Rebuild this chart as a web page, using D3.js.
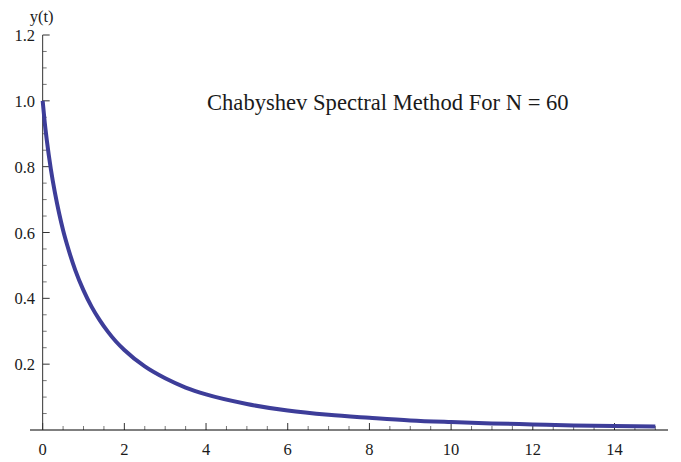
<!DOCTYPE html>
<html>
<head>
<meta charset="utf-8">
<script src="https://d3js.org/d3.v7.min.js"></script>
<style>
body { margin: 0; background: white; }
text { font-family: "Liberation Serif", "Times New Roman", serif; fill: #1a1a1a; }
</style>
</head>
<body>
<script>
var width = 681;
var height = 462;

// values
var tValues = [0, 0.05, 0.1, 0.2, 0.3, 0.4, 0.5, 0.6, 0.8, 1.0, 1.2, 1.4, 1.6, 1.8, 2.0, 2.5, 3.0, 3.5, 4.0, 5.0, 6.0, 7.0, 8.0, 9.0, 10.0, 11.0, 12.0, 13.0, 14.0, 15.0];
var yValues = [1.0, 0.935, 0.882, 0.793, 0.721, 0.660, 0.607, 0.562, 0.485, 0.424, 0.374, 0.333, 0.298, 0.268, 0.243, 0.193, 0.157, 0.129, 0.108, 0.079, 0.059, 0.046, 0.037, 0.029, 0.024, 0.020, 0.017, 0.014, 0.012, 0.011];

var xMajor = [0, 2, 4, 6, 8, 10, 12, 14];
var yMajor = [0.2, 0.4, 0.6, 0.8, 1.0, 1.2];
var yLabels = ["0.2", "0.4", "0.6", "0.8", "1.0", "1.2"];
var title = "Chabyshev Spectral Method For N = 60";

var data = tValues.map((t, i) => ({t: t, y: yValues[i]}));

var x = d3.scaleLinear().domain([-0.31, 15.31]).range([30, 668]);
var y = d3.scaleLinear().domain([0, 1.2]).range([430, 35]);

var svg = d3.select("body")
	.append("svg")
	.attr("width", width)
	.attr("height", height)

// minor ticks every 0.5 / 0.05
var xMinor = d3.range(0, 15.01, 0.5).filter(v => xMajor.indexOf(v) < 0);
var yMinor = d3.range(1, 24).map(v => v * 0.05).filter(v => Math.abs(v * 5 - Math.round(v * 5)) > 1e-6);

svg.selectAll("xminor").data(xMinor).enter()
	.append("line")
	.attr("x1", d => x(d)).attr("x2", d => x(d))
	.attr("y1", y(0)).attr("y2", y(0) - 4)
	.attr("stroke", "#777")

svg.selectAll("xmajor").data(xMajor).enter()
	.append("line")
	.attr("x1", d => x(d)).attr("x2", d => x(d))
	.attr("y1", y(0)).attr("y2", y(0) - 7)
	.attr("stroke", "#333")

svg.selectAll("yminor").data(yMinor).enter()
	.append("line")
	.attr("x1", x(0)).attr("x2", x(0) + 4)
	.attr("y1", d => y(d)).attr("y2", d => y(d))
	.attr("stroke", "#777")

svg.selectAll("ymajor").data(yMajor).enter()
	.append("line")
	.attr("x1", x(0)).attr("x2", x(0) + 7)
	.attr("y1", d => y(d)).attr("y2", d => y(d))
	.attr("stroke", "#333")

// axes lines
svg.append("line")
	.attr("x1", 30).attr("x2", 668)
	.attr("y1", y(0)).attr("y2", y(0))
	.attr("stroke", "black")

svg.append("line")
	.attr("x1", x(0)).attr("x2", x(0))
	.attr("y1", y(0)).attr("y2", y(1.2))
	.attr("stroke", "#333")

svg.selectAll("xlabels").data(xMajor).enter()
	.append("text")
	.attr("x", d => x(d))
	.attr("y", 455)
	.attr("text-anchor", "middle")
	.attr("font-size", "16.5px")
	.text(d => d)

svg.selectAll("ylabels").data(yMajor).enter()
	.append("text")
	.attr("x", 35)
	.attr("y", d => y(d) + 6)
	.attr("text-anchor", "end")
	.attr("font-size", "16.5px")
	.text((d, i) => yLabels[i])

svg.append("text")
	.attr("x", x(0) - 1)
	.attr("y", 22)
	.attr("text-anchor", "middle")
	.attr("font-size", "16.5px")
	.text("y(t)")

svg.append("text")
	.attr("x", 207)
	.attr("y", 110)
	.attr("font-size", "22.6px")
	.text(title)

var line = d3.line()
	.x(d => x(d.t))
	.y(d => y(d.y))
	.curve(d3.curveMonotoneX)

svg.append("path")
	.datum(data)
	.attr("d", line)
	.attr("fill", "none")
	.attr("stroke", "#3d3d99")
	.attr("stroke-width", 4)
	.attr("stroke-linejoin", "round")
</script>
</body>
</html>
